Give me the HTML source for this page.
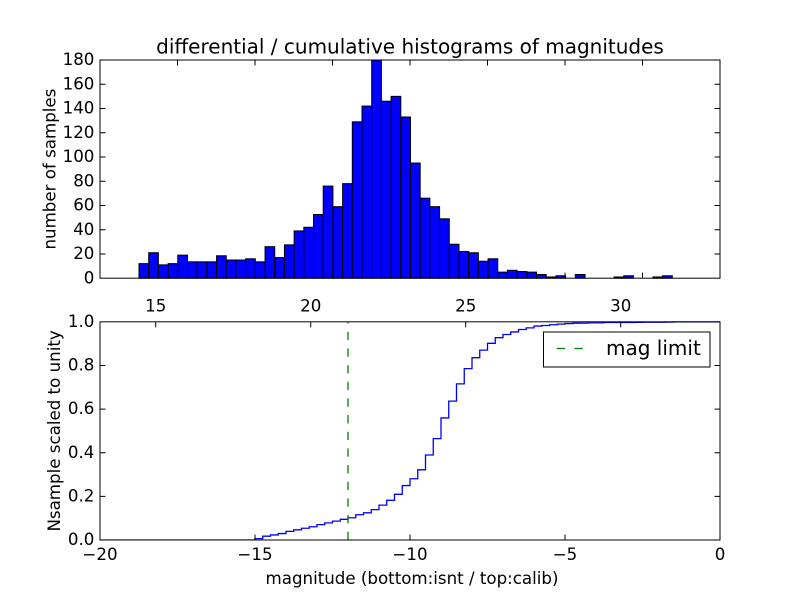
<!DOCTYPE html>
<html>
<head>
<meta charset="utf-8">
<style>
  html, body { margin: 0; padding: 0; background: #ffffff; }
  svg { display: block; }
  text { font-family: "DejaVu Sans", "Liberation Sans", sans-serif; fill: #000; }
</style>
</head>
<body>
<svg width="800" height="600" viewBox="0 0 800 600" xmlns="http://www.w3.org/2000/svg">
  <rect x="0" y="0" width="800" height="600" fill="#ffffff"/>

  <rect x="100" y="60" width="620" height="218.18" fill="#ffffff"/>
  <g fill="#0000ff" stroke="#000" stroke-width="1">
    <rect x="139.00" y="263.63" width="9.70" height="14.55"/>
    <rect x="148.70" y="252.73" width="9.69" height="25.45"/>
    <rect x="158.39" y="264.85" width="9.70" height="13.33"/>
    <rect x="168.09" y="263.63" width="9.69" height="14.55"/>
    <rect x="177.78" y="255.15" width="9.70" height="23.03"/>
    <rect x="187.48" y="261.82" width="9.70" height="16.36"/>
    <rect x="197.18" y="261.82" width="9.69" height="16.36"/>
    <rect x="206.87" y="261.82" width="9.70" height="16.36"/>
    <rect x="216.57" y="255.76" width="9.69" height="22.42"/>
    <rect x="226.26" y="260.00" width="9.70" height="18.18"/>
    <rect x="235.96" y="260.00" width="9.70" height="18.18"/>
    <rect x="245.66" y="258.79" width="9.69" height="19.39"/>
    <rect x="255.35" y="261.82" width="9.70" height="16.36"/>
    <rect x="265.05" y="246.66" width="9.69" height="31.52"/>
    <rect x="274.74" y="257.57" width="9.70" height="20.61"/>
    <rect x="284.44" y="244.85" width="9.70" height="33.33"/>
    <rect x="294.14" y="230.91" width="9.69" height="47.27"/>
    <rect x="303.83" y="227.27" width="9.70" height="50.91"/>
    <rect x="313.53" y="214.54" width="9.69" height="63.64"/>
    <rect x="323.22" y="186.06" width="9.70" height="92.12"/>
    <rect x="332.92" y="206.67" width="9.70" height="71.51"/>
    <rect x="342.62" y="183.64" width="9.69" height="94.54"/>
    <rect x="352.31" y="121.82" width="9.70" height="156.36"/>
    <rect x="362.01" y="106.06" width="9.69" height="172.12"/>
    <rect x="371.70" y="60.00" width="9.70" height="218.18"/>
    <rect x="381.40" y="101.21" width="9.70" height="176.97"/>
    <rect x="391.10" y="96.36" width="9.69" height="181.82"/>
    <rect x="400.79" y="116.97" width="9.70" height="161.21"/>
    <rect x="410.49" y="163.03" width="9.69" height="115.15"/>
    <rect x="420.18" y="198.18" width="9.70" height="80.00"/>
    <rect x="429.88" y="206.67" width="9.70" height="71.51"/>
    <rect x="439.58" y="218.79" width="9.69" height="59.39"/>
    <rect x="449.27" y="244.24" width="9.70" height="33.94"/>
    <rect x="458.97" y="251.51" width="9.69" height="26.67"/>
    <rect x="468.66" y="252.73" width="9.70" height="25.45"/>
    <rect x="478.36" y="261.21" width="9.70" height="16.97"/>
    <rect x="488.06" y="258.79" width="9.69" height="19.39"/>
    <rect x="497.75" y="272.12" width="9.70" height="6.06"/>
    <rect x="507.45" y="270.30" width="9.69" height="7.88"/>
    <rect x="517.14" y="271.51" width="9.70" height="6.67"/>
    <rect x="526.84" y="272.12" width="9.70" height="6.06"/>
    <rect x="536.54" y="274.54" width="9.69" height="3.64"/>
    <rect x="546.23" y="276.97" width="9.70" height="1.21"/>
    <rect x="555.93" y="275.76" width="9.69" height="2.42"/>
    <rect x="575.32" y="274.54" width="9.70" height="3.64"/>
    <rect x="614.10" y="276.97" width="9.70" height="1.21"/>
    <rect x="623.80" y="275.76" width="9.70" height="2.42"/>
    <rect x="652.89" y="276.97" width="9.69" height="1.21"/>
    <rect x="662.58" y="275.76" width="9.70" height="2.42"/>
  </g>

  <g stroke="#000" stroke-width="1" fill="none">
    <path d="M100,253.94h5.5M100,229.70h5.5M100,205.45h5.5M100,181.21h5.5M100,156.97h5.5M100,132.73h5.5M100,108.48h5.5M100,84.24h5.5"/>
    <path d="M720,253.94h-5.5M720,229.70h-5.5M720,205.45h-5.5M720,181.21h-5.5M720,156.97h-5.5M720,132.73h-5.5M720,108.48h-5.5M720,84.24h-5.5"/>
    <path d="M177.5,60v5.5M255,60v5.5M332.5,60v5.5M410,60v5.5M487.5,60v5.5M565,60v5.5M642.5,60v5.5"/>
    <path d="M177.5,278.18v-5.5M255,278.18v-5.5M332.5,278.18v-5.5M410,278.18v-5.5M487.5,278.18v-5.5M565,278.18v-5.5M642.5,278.18v-5.5"/>
    <rect x="100" y="60" width="620" height="218.18"/>
  </g>

  <g font-size="16.67" text-anchor="end">
    <text x="94.4" y="283.3">0</text>
    <text x="94.4" y="259.1">20</text>
    <text x="94.4" y="234.9">40</text>
    <text x="94.4" y="210.6">60</text>
    <text x="94.4" y="186.4">80</text>
    <text x="94.4" y="162.1">100</text>
    <text x="94.4" y="137.9">120</text>
    <text x="94.4" y="113.7">140</text>
    <text x="94.4" y="89.4">160</text>
    <text x="94.4" y="65.2">180</text>
  </g>

  <text x="410" y="53.5" font-size="20" text-anchor="middle">differential / cumulative histograms of magnitudes</text>
  <text transform="translate(55.5,169.09) rotate(-90)" font-size="16.67" text-anchor="middle">number of samples</text>

  <defs>
    <clipPath id="clipB"><rect x="100" y="321.3" width="620" height="219.2"/></clipPath>
  </defs>
  <g clip-path="url(#clipB)">
    <path fill="none" stroke="#0000ff" stroke-width="1.3"
      d="M100,540 H255 V538.62 H262.75 V536.21 H270.5 V534.94 H278.25 V533.56 H286 V531.38 H293.75 V529.82 H301.5 V528.27 H309.25 V526.72 H317 V524.59 H324.75 V522.87 H332.5 V521.14 H340.25 V519.30 H348 V517.75 H355.75 V514.76 H363.5 V512.81 H371.25 V509.64 H379 V505.16 H386.75 V500.33 H394.5 V494.29 H402.25 V485.56 H410 V478.77 H417.75 V469.80 H425.5 V454.97 H433.25 V438.64 H441 V417.95 H448.75 V401.16 H456.5 V383.91 H464.25 V368.62 H472 V357.69 H479.75 V350.11 H487.5 V343.32 H495.25 V337.69 H503 V334.47 H510.75 V331.94 H518.5 V329.52 H526.25 V327.91 H534 V326.07 H541.75 V325.50 H549.5 V324.75 H557.25 V324.12 H565 V323.55 H572.75 V323.20 H580.5 V323.09 H588.25 V322.86 H603.75 V322.51 H634.75 V322.40 H642.5 V322.17 H665.75 V322.05 H673.5 V321.82 H720"/>
    <line x1="348" y1="540" x2="348" y2="321.82" stroke="#008000" stroke-width="1.3" stroke-dasharray="8.33,8.33"/>
  </g>

  <g stroke="#000" stroke-width="1" fill="none">
    <path d="M100,496.36h5.5M100,452.73h5.5M100,409.09h5.5M100,365.45h5.5"/>
    <path d="M720,496.36h-5.5M720,452.73h-5.5M720,409.09h-5.5M720,365.45h-5.5"/>
    <path d="M255,540v-5.5M410,540v-5.5M565,540v-5.5"/>
    <path d="M155.7,321.82v5.5M310.7,321.82v5.5M465.7,321.82v5.5M620.7,321.82v5.5"/>
    <rect x="100" y="321.82" width="620" height="218.18"/>
  </g>

  <g font-size="16.67" text-anchor="end">
    <text x="94.4" y="545.1">0.0</text>
    <text x="94.4" y="501.5">0.2</text>
    <text x="94.4" y="457.8">0.4</text>
    <text x="94.4" y="414.2">0.6</text>
    <text x="94.4" y="370.6">0.8</text>
    <text x="94.4" y="326.9">1.0</text>
  </g>
  <g font-size="16.67" text-anchor="middle">
    <text x="100" y="560">−20</text>
    <text x="255" y="560">−15</text>
    <text x="410" y="560">−10</text>
    <text x="565" y="560">−5</text>
    <text x="720" y="560">0</text>
  </g>
  <g font-size="16.67" text-anchor="middle">
    <text x="155.7" y="311.7">15</text>
    <text x="310.7" y="311.7">20</text>
    <text x="465.7" y="311.7">25</text>
    <text x="620.7" y="311.7">30</text>
  </g>

  <rect x="543.5" y="332" width="166.5" height="35" fill="#ffffff" stroke="#000" stroke-width="1"/>
  <line x1="556.7" y1="348.5" x2="565" y2="348.5" stroke="#008000" stroke-width="1.3"/>
  <line x1="574.5" y1="348.5" x2="582.8" y2="348.5" stroke="#008000" stroke-width="1.3"/>
  <text x="606" y="354.8" font-size="20">mag limit</text>

  <text x="412" y="584" font-size="16.67" text-anchor="middle">magnitude (bottom:isnt / top:calib)</text>
  <text transform="translate(60,430.91) rotate(-90)" font-size="16.67" text-anchor="middle">Nsample scaled to unity</text>
</svg>
</body>
</html>
